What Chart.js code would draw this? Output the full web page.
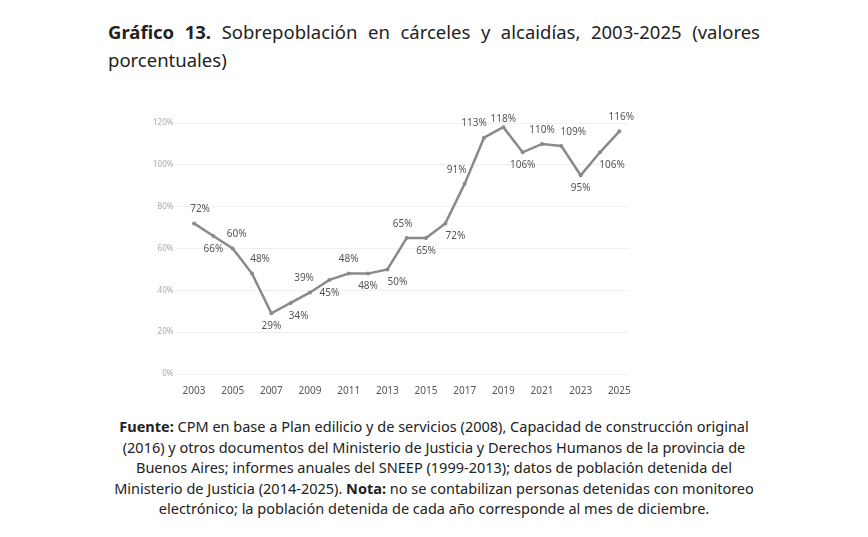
<!DOCTYPE html>
<html><head><meta charset="utf-8">
<script src="https://cdn.jsdelivr.net/npm/chart.js@4"></script>
<style>
body{margin:0;width:868px;height:537px;background:#fff;position:relative;font-family:"Noto Sans",sans-serif;overflow:hidden}
#title{position:absolute;left:108px;top:18px;width:652px;font-size:18.5px;line-height:28px;color:#222;text-align:justify;text-align-last:left}
#box{position:absolute;left:150px;top:110px;width:500px;height:290px}
#src{position:absolute;left:100px;top:416px;width:668px;font-size:14.5px;line-height:20.5px;color:#222;text-align:center}
</style></head><body>
<div id="title"><b>Gráfico 13.</b> Sobrepoblación en cárceles y alcaidías, 2003-2025 (valores porcentuales)</div>
<div id="box"><canvas id="c"></canvas></div>
<div id="src"><b>Fuente:</b> CPM en base a Plan edilicio y de servicios (2008), Capacidad de construcción original (2016) y otros documentos del Ministerio de Justicia y Derechos Humanos de la provincia de Buenos Aires; informes anuales del SNEEP (1999-2013); datos de población detenida del Ministerio de Justicia (2014-2025). <b>Nota:</b> no se contabilizan personas detenidas con monitoreo electrónico; la población detenida de cada año corresponde al mes de diciembre.</div>
<script>
const years=["2003","2004","2005","2006","2007","2008","2009","2010","2011","2012","2013","2014","2015","2016","2017","2018","2019","2020","2021","2022","2023","2024","2025"];
const values=[72,66,60,48,29,34,39,45,48,48,50,65,65,72,91,113,118,106,110,109,95,106,116];
const yTicks=[0,20,40,60,80,100,120];
// label placement: [dx, dy]
const labelPos=[[6,-14],[0,13],[4,-14],[8,-14],[0,13],[8,13],[-6,-14],[0,13],[0,-14],[0,13],[10,13],[-4,-14],[0,13],[10,13],[-8,-14],[-10,-14],[0,-8],[0,13],[0,-14],[12,-14],[0,13],[12,13],[2,-14]];
const lbl={id:'lbl',afterDatasetsDraw(ch){const c=ch.ctx;const m=ch.getDatasetMeta(0);c.save();c.font='10px "Noto Sans"';c.fillStyle='#555';c.textAlign='center';c.textBaseline='middle';
m.data.forEach((p,i)=>{c.fillText(values[i]+'%',p.x+labelPos[i][0],p.y+labelPos[i][1]);});c.restore();}};
new Chart(document.getElementById('c'),{type:'line',
data:{labels:years,datasets:[{data:values,borderColor:'#8a8a8a',borderWidth:2.5,pointRadius:2,pointBackgroundColor:'#8a8a8a',pointBorderWidth:0,tension:0}]},
options:{responsive:true,maintainAspectRatio:false,animation:false,layout:{padding:{top:13,right:21,left:0,bottom:0}},
plugins:{legend:{display:false},tooltip:{enabled:false}},
scales:{x:{offset:true,grid:{display:false},border:{display:false},ticks:{autoSkip:false,maxRotation:0,color:'#555',font:{size:10,family:'"Noto Sans"'},callback:(v,i)=>i%2===0||i===years.length-1?years[i]:''}},
y:{min:0,max:120,afterBuildTicks:s=>{s.ticks=yTicks.map(v=>({value:v}));},grid:{color:'#f0f0f0'},border:{display:false},ticks:{color:'#aaa',font:{size:8,family:'"Noto Sans"'},callback:v=>v+'%'}}}},
plugins:[lbl]});
</script></body></html>
